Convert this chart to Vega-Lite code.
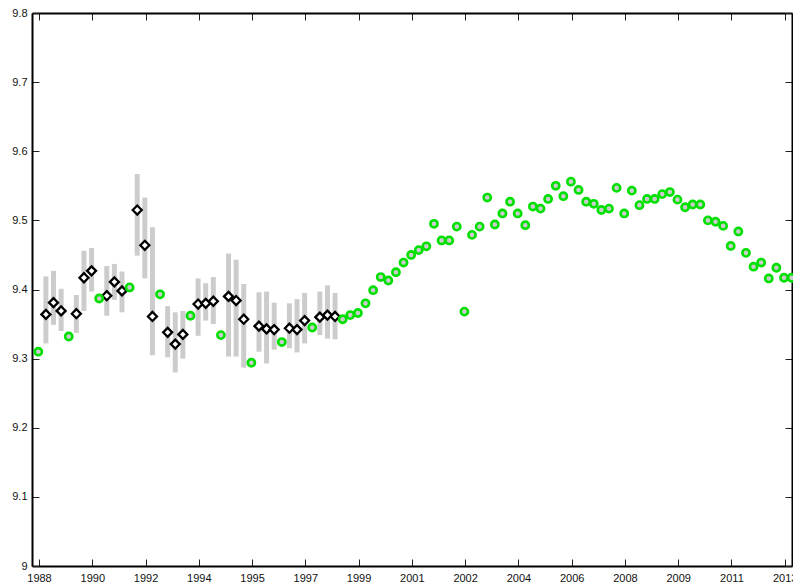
{
  "$schema": "https://vega.github.io/schema/vega-lite/v6.json",
  "width": 760,
  "height": 553,
  "autosize": {"type": "none"},
  "padding": {"left": 32, "top": 13, "right": 1, "bottom": 20},
  "background": "white",
  "config": {
    "view": {"stroke": null},
    "axis": {
      "domainColor": "black",
      "domainWidth": 2,
      "tickColor": "#222222",
      "tickWidth": 1,
      "tickSize": -7,
      "grid": false,
      "title": null,
      "labelFont": "Liberation Sans",
      "labelFontSize": 11,
      "labelColor": "#111111",
      "labelOverlap": false,
      "labelFlush": false
    }
  },
  "datasets": {
    "diamonds": [
      {"t": 1989.0, "v": 9.364, "lo": 9.322, "hi": 9.419},
      {"t": 1989.25, "v": 9.381, "lo": 9.349, "hi": 9.427},
      {"t": 1989.5, "v": 9.369, "lo": 9.340, "hi": 9.401},
      {"t": 1990.0, "v": 9.365, "lo": 9.337, "hi": 9.392},
      {"t": 1990.25, "v": 9.417, "lo": 9.369, "hi": 9.456},
      {"t": 1990.5, "v": 9.427, "lo": 9.397, "hi": 9.460},
      {"t": 1991.0, "v": 9.391, "lo": 9.362, "hi": 9.434},
      {"t": 1991.25, "v": 9.411, "lo": 9.385, "hi": 9.437},
      {"t": 1991.5, "v": 9.398, "lo": 9.367, "hi": 9.426},
      {"t": 1992.0, "v": 9.515, "lo": 9.449, "hi": 9.567},
      {"t": 1992.25, "v": 9.464, "lo": 9.416, "hi": 9.533},
      {"t": 1992.5, "v": 9.361, "lo": 9.305, "hi": 9.490},
      {"t": 1993.0, "v": 9.338, "lo": 9.302, "hi": 9.376},
      {"t": 1993.25, "v": 9.321, "lo": 9.280, "hi": 9.367},
      {"t": 1993.5, "v": 9.335, "lo": 9.300, "hi": 9.369},
      {"t": 1994.0, "v": 9.379, "lo": 9.333, "hi": 9.416},
      {"t": 1994.25, "v": 9.380, "lo": 9.355, "hi": 9.409},
      {"t": 1994.5, "v": 9.383, "lo": 9.350, "hi": 9.418},
      {"t": 1995.0, "v": 9.390, "lo": 9.303, "hi": 9.452},
      {"t": 1995.25, "v": 9.384, "lo": 9.303, "hi": 9.443},
      {"t": 1995.5, "v": 9.357, "lo": 9.287, "hi": 9.408},
      {"t": 1996.0, "v": 9.347, "lo": 9.310, "hi": 9.396},
      {"t": 1996.25, "v": 9.343, "lo": 9.293, "hi": 9.397},
      {"t": 1996.5, "v": 9.342, "lo": 9.313, "hi": 9.381},
      {"t": 1997.0, "v": 9.344, "lo": 9.315, "hi": 9.380},
      {"t": 1997.25, "v": 9.342, "lo": 9.309, "hi": 9.386},
      {"t": 1997.5, "v": 9.355, "lo": 9.322, "hi": 9.395},
      {"t": 1998.0, "v": 9.360, "lo": 9.334, "hi": 9.397},
      {"t": 1998.25, "v": 9.363, "lo": 9.329, "hi": 9.406},
      {"t": 1998.5, "v": 9.361, "lo": 9.328, "hi": 9.395}
    ],
    "circles": [
      {"t": 1988.75, "v": 9.310},
      {"t": 1989.75, "v": 9.332},
      {"t": 1990.75, "v": 9.387},
      {"t": 1991.75, "v": 9.403},
      {"t": 1992.75, "v": 9.393},
      {"t": 1993.75, "v": 9.362},
      {"t": 1994.75, "v": 9.334},
      {"t": 1995.75, "v": 9.294},
      {"t": 1996.75, "v": 9.324},
      {"t": 1997.75, "v": 9.345},
      {"t": 1998.75, "v": 9.357},
      {"t": 1999.0, "v": 9.363},
      {"t": 1999.25, "v": 9.366},
      {"t": 1999.5, "v": 9.380},
      {"t": 1999.75, "v": 9.399},
      {"t": 2000.0, "v": 9.418},
      {"t": 2000.25, "v": 9.413},
      {"t": 2000.5, "v": 9.425},
      {"t": 2000.75, "v": 9.439},
      {"t": 2001.0, "v": 9.450},
      {"t": 2001.25, "v": 9.457},
      {"t": 2001.5, "v": 9.4625},
      {"t": 2001.75, "v": 9.495},
      {"t": 2002.0, "v": 9.471},
      {"t": 2002.25, "v": 9.471},
      {"t": 2002.5, "v": 9.491},
      {"t": 2002.75, "v": 9.368},
      {"t": 2003.0, "v": 9.479},
      {"t": 2003.25, "v": 9.491},
      {"t": 2003.5, "v": 9.533},
      {"t": 2003.75, "v": 9.494},
      {"t": 2004.0, "v": 9.510},
      {"t": 2004.25, "v": 9.527},
      {"t": 2004.5, "v": 9.510},
      {"t": 2004.75, "v": 9.493},
      {"t": 2005.0, "v": 9.520},
      {"t": 2005.25, "v": 9.517},
      {"t": 2005.5, "v": 9.531},
      {"t": 2005.75, "v": 9.550},
      {"t": 2006.0, "v": 9.535},
      {"t": 2006.25, "v": 9.556},
      {"t": 2006.5, "v": 9.544},
      {"t": 2006.75, "v": 9.527},
      {"t": 2007.0, "v": 9.524},
      {"t": 2007.25, "v": 9.515},
      {"t": 2007.5, "v": 9.517},
      {"t": 2007.75, "v": 9.547},
      {"t": 2008.0, "v": 9.510},
      {"t": 2008.25, "v": 9.543},
      {"t": 2008.5, "v": 9.522},
      {"t": 2008.75, "v": 9.531},
      {"t": 2009.0, "v": 9.531},
      {"t": 2009.25, "v": 9.538},
      {"t": 2009.5, "v": 9.541},
      {"t": 2009.75, "v": 9.530},
      {"t": 2010.0, "v": 9.519},
      {"t": 2010.25, "v": 9.523},
      {"t": 2010.5, "v": 9.523},
      {"t": 2010.75, "v": 9.500},
      {"t": 2011.0, "v": 9.498},
      {"t": 2011.25, "v": 9.492},
      {"t": 2011.5, "v": 9.463},
      {"t": 2011.75, "v": 9.484},
      {"t": 2012.0, "v": 9.453},
      {"t": 2012.25, "v": 9.433},
      {"t": 2012.5, "v": 9.439},
      {"t": 2012.75, "v": 9.416},
      {"t": 2013.0, "v": 9.4315},
      {"t": 2013.25, "v": 9.417},
      {"t": 2013.5, "v": 9.417}
    ]
  },
  "layer": [
    {
      "data": {"name": "diamonds"},
      "mark": {"type": "rule", "color": "#cccccc", "strokeWidth": 5, "strokeCap": "butt"},
      "encoding": {
        "x": {
          "field": "t", "type": "quantitative",
          "scale": {"domain": [1988.543, 2013.513], "nice": false, "zero": false},
          "axis": {
            "orient": "bottom",
            "values": [1988.773, 1990.523, 1992.273, 1994.023, 1995.773, 1997.523, 1999.273, 2001.023, 2002.773, 2004.523, 2006.273, 2008.023, 2009.773, 2011.523, 2013.273],
            "labelExpr": "floor(datum.value)",
            "labelPadding": 13
          }
        },
        "y": {
          "field": "lo", "type": "quantitative",
          "scale": {"domain": [9, 9.8], "nice": false, "zero": false},
          "axis": {
            "orient": "left",
            "values": [9, 9.1, 9.2, 9.3, 9.4, 9.5, 9.6, 9.7, 9.8],
            "format": ".1~f",
            "labelPadding": 12
          }
        },
        "y2": {"field": "hi"}
      }
    },
    {
      "data": {"name": "diamonds"},
      "mark": {"type": "point", "shape": "diamond", "size": 81, "filled": false, "fill": "white", "fillOpacity": 1, "stroke": "black", "strokeWidth": 2.3, "opacity": 1},
      "encoding": {
        "x": {"field": "t", "type": "quantitative", "axis": null},
        "y": {"field": "v", "type": "quantitative", "axis": null}
      }
    },
    {
      "data": {"name": "circles"},
      "mark": {"type": "point", "shape": "circle", "size": 52, "filled": false, "fill": "#cccccc", "fillOpacity": 1, "stroke": "#00e000", "strokeWidth": 2.6, "opacity": 1},
      "encoding": {
        "x": {
          "field": "t", "type": "quantitative",
          "axis": {
            "orient": "top", "labels": false,
            "values": [1988.773, 1990.523, 1992.273, 1994.023, 1995.773, 1997.523, 1999.273, 2001.023, 2002.773, 2004.523, 2006.273, 2008.023, 2009.773, 2011.523, 2013.273]
          }
        },
        "y": {
          "field": "v", "type": "quantitative",
          "axis": {"orient": "right", "labels": false, "values": [9, 9.1, 9.2, 9.3, 9.4, 9.5, 9.6, 9.7, 9.8]}
        }
      }
    }
  ],
  "resolve": {"axis": {"x": "independent", "y": "independent"}}
}
